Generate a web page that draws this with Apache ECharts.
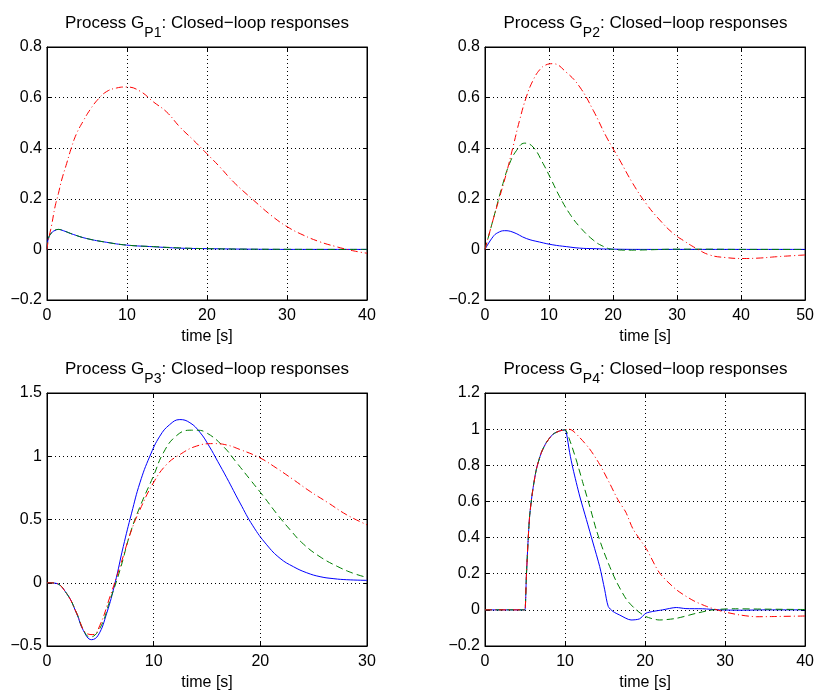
<!DOCTYPE html>
<html><head><meta charset="utf-8">
<script src="https://cdn.jsdelivr.net/npm/echarts@6/dist/echarts.min.js"></script>
<style>html,body{margin:0;padding:0;background:#fff}#c{width:817px;height:692px}</style>
</head><body><div id="c"></div>
<script>
// ---------- Process GP1 ----------
const p1BlueT = [0,0.17,0.58,1,1.42,2.04,3.3,4.96,7.46,9.96,13.3,16.6,20,25,30,35,40];
const p1BlueV = [0,0.043,0.066,0.075,0.079,0.074,0.059,0.043,0.028,0.017,0.0105,0.005,0.003,0.001,0,0,0];
const p1GreenT = [0,0.17,0.58,1,1.42,2.04,3.3,4.96,7.46,9.96,13.3,16.6,20,25,30,35,40];
const p1GreenV = [0,0.042,0.066,0.076,0.079,0.074,0.059,0.043,0.028,0.017,0.011,0.006,0.003,0.001,0.0005,0,0];
const p1RedT = [0,0.17,0.58,1.0,1.42,1.83,2.46,3.08,3.7,4.54,5.38,6.4,7.46,8.7,9.96,11.6,13.3,14.96,16.6,18.3,19.96,21.6,23.3,25.8,28,30,32,34.1,36,37.5,39,40];
const p1RedV = [0,0.037,0.096,0.168,0.22,0.274,0.34,0.405,0.458,0.508,0.552,0.594,0.624,0.638,0.642,0.626,0.583,0.543,0.484,0.432,0.379,0.326,0.267,0.195,0.135,0.09,0.057,0.03,0.012,0,-0.01,-0.015];

// ---------- Process GP2 ----------
const p2BlueT = [0,1.25,2,3.07,4.375,6.46,8.54,10.6,12.7,14.8,17,20,25,30,40,50];
const p2BlueV = [0,0.05,0.066,0.074,0.068,0.043,0.029,0.018,0.011,0.005,0.003,0.001,0,0,0,0];
const p2GreenT = [0,1.25,2.8,3.85,4.9,6.2,7.5,9.06,10.4,11.67,13.2,14.8,16.9,18.4,20,22.6,25,30,35,40,45,50];
const p2GreenV = [0,0.116,0.26,0.34,0.39,0.42,0.405,0.34,0.273,0.208,0.142,0.089,0.037,0.013,0,-0.003,-0.002,0.001,0.001,0,0,0];
const p2RedT = [0,1.25,2.3,3.33,4.375,5.4,6.46,7.5,8.54,9.5,10.6,12.7,14.8,16.9,18.96,21.04,23.1,25.2,27.3,29.4,31,33,35.1,37.5,40.3,43,45.5,48,50];
const p2RedV = [0,0.116,0.208,0.3,0.405,0.51,0.603,0.668,0.71,0.729,0.734,0.70,0.642,0.55,0.445,0.353,0.26,0.18,0.116,0.063,0.035,0.004,-0.022,-0.032,-0.036,-0.034,-0.029,-0.025,-0.022];

// ---------- Process GP3 ----------
const p3BlueT = [0,0.75,1.84,2.78,3.4,4.18,4.8,5.59,6.37,7.15,7.93,8.71,9.64,10.58,11.5,12.45,13.4,14.33,15.2,16,16.85,18.1,19.3,20.6,21.85,23.1,24.35,25.6,26.9,28.1,30];
const p3BlueV = [0,-0.003,-0.085,-0.243,-0.376,-0.45,-0.415,-0.243,-0.005,0.286,0.55,0.79,1.0,1.159,1.25,1.29,1.265,1.19,1.08,0.96,0.83,0.63,0.45,0.3,0.193,0.127,0.079,0.048,0.032,0.024,0.019];
const p3GreenT = [0,0.75,1.84,2.78,3.4,4.03,4.96,5.9,6.84,7.8,8.71,9.96,10.9,12.1,13.4,14,14.96,16.5,17.8,19.05,20.3,21.5,22.8,24.05,25.6,27.2,28.7,30];
const p3GreenV = [0,-0.003,-0.085,-0.24,-0.37,-0.43,-0.36,-0.14,0.1,0.39,0.6,0.84,1.026,1.16,1.206,1.206,1.185,1.08,0.947,0.815,0.683,0.55,0.418,0.305,0.205,0.13,0.075,0.042];
const p3RedT = [0,0.75,1.84,2.78,3.7,4.3,4.96,5.9,6.84,7.93,8.71,9.96,11.2,12.45,14,15.6,16.8,18.1,19.97,21.5,23.1,24.7,26.3,28.1,30];
const p3RedV = [0,-0.003,-0.085,-0.24,-0.4,-0.41,-0.336,-0.111,0.127,0.418,0.577,0.788,0.934,1.013,1.08,1.1,1.09,1.053,0.987,0.907,0.815,0.72,0.635,0.537,0.458];

// ---------- Process GP4 ----------
const p4BlueT = [0,4.9,5,5.17,5.37,5.58,5.92,6.42,7.04,7.67,8.5,9.33,10,10.17,10.58,11,11.83,12.67,13.5,14.33,14.96,15.4,16,16.8,18.25,19.3,20.1,20.96,22.2,23.9,25.1,27.2,29.3,32,35,40];
const p4BlueV = [0,0,0,0.185,0.37,0.52,0.648,0.778,0.87,0.926,0.972,0.99,0.996,0.98,0.87,0.78,0.63,0.5,0.37,0.24,0.111,0.019,-0.009,-0.028,-0.056,-0.05,-0.019,-0.009,0,0.013,0.007,0.006,0,-0.002,0,0];
const p4GreenT = [0,4.9,5,5.17,5.37,5.58,5.92,6.42,7.04,7.67,8.5,9.33,10,10.58,11.4,12.25,13.08,13.9,14.75,15.58,16.4,17.7,18.9,20.1,21.8,23.9,26.4,28.5,31,35,40];
const p4GreenV = [0,0,0,0.185,0.37,0.52,0.648,0.778,0.87,0.926,0.972,0.99,0.996,0.94,0.83,0.70,0.574,0.444,0.333,0.24,0.158,0.056,0,-0.037,-0.056,-0.047,-0.019,0,0.006,0.004,0.002];
const p4RedT = [0,4.9,5,5.17,5.37,5.58,5.92,6.42,7.04,7.67,8.5,9.33,10,10.5,11,11.83,13.08,14.33,15.58,16.6,17.6,18.5,20.2,21.8,23.9,26,27.7,29.7,31.8,33.9,36,40];
const p4RedV = [0,0,0,0.185,0.37,0.52,0.648,0.778,0.87,0.926,0.972,0.99,0.996,1.0,0.99,0.954,0.89,0.805,0.70,0.61,0.54,0.447,0.335,0.205,0.112,0.052,0.019,-0.009,-0.028,-0.038,-0.037,-0.034];

// ---------- axes & titles ----------
const titles = ['P1','P2','P3','P4'];
const xMax = [40,50,30,40];
const yMin = [-0.2,-0.2,-0.5,-0.2];
const yMax = [0.8,0.8,1.5,1.2];
const yStep = [0.2,0.2,0.5,0.2];
const xStep = 10;
const xName = 'time [s]';

const plots = [
  {blue:[p1BlueT,p1BlueV], green:[p1GreenT,p1GreenV], red:[p1RedT,p1RedV]},
  {blue:[p2BlueT,p2BlueV], green:[p2GreenT,p2GreenV], red:[p2RedT,p2RedV]},
  {blue:[p3BlueT,p3BlueV], green:[p3GreenT,p3GreenV], red:[p3RedT,p3RedV]},
  {blue:[p4BlueT,p4BlueV], green:[p4GreenT,p4GreenV], red:[p4RedT,p4RedV]}
];

const FONT = '"Liberation Sans", Arial, Helvetica, sans-serif';
const gridPos = [
  {left:47, top:47, width:320, height:253},
  {left:485, top:47, width:321, height:253},
  {left:47, top:393, width:320, height:253},
  {left:485, top:393, width:321, height:253}
];
const zip = (t, v) => t.map((x, i) => [x, v[i]]);
const minus = v => String(v).replace('-', '\u2212');

const grid = [], xAxis = [], yAxis = [], series = [], title = [];
gridPos.forEach((g, i) => {
  grid.push(Object.assign({show:true, borderColor:'#000', borderWidth:1, backgroundColor:'#fff', containLabel:false}, g));
  const tick = {show:true, inside:true, length:4, lineStyle:{color:'#000', width:1}};
  xAxis.push({
    type:'value', gridIndex:i, min:0, max:xMax[i], interval:xStep, position:'bottom',
    name:xName, nameLocation:'middle', nameGap:29,
    nameTextStyle:{color:'#000', fontSize:16, fontFamily:FONT},
    axisLine:{show:true, onZero:false, lineStyle:{color:'#000', width:1}},
    axisTick:tick,
    axisLabel:{color:'#000', fontSize:16, fontFamily:FONT, margin:8, showMinLabel:true, showMaxLabel:true, formatter:minus},
    splitLine:{show:true, lineStyle:{color:'#000', width:1, type:[1,3]}}
  });
  xAxis.push({
    type:'value', gridIndex:i, min:0, max:xMax[i], interval:xStep, position:'top',
    axisLine:{show:true, onZero:false, lineStyle:{color:'#000', width:1}},
    axisTick:tick, axisLabel:{show:false}, splitLine:{show:false}
  });
  yAxis.push({
    type:'value', gridIndex:i, min:yMin[i], max:yMax[i], interval:yStep[i], position:'left',
    axisLine:{show:true, onZero:false, lineStyle:{color:'#000', width:1}},
    axisTick:tick,
    axisLabel:{color:'#000', fontSize:16, fontFamily:FONT, margin:5, showMinLabel:true, showMaxLabel:true, formatter:minus},
    splitLine:{show:true, lineStyle:{color:'#000', width:1, type:[1,3]}}
  });
  yAxis.push({
    type:'value', gridIndex:i, min:yMin[i], max:yMax[i], interval:yStep[i], position:'right',
    axisLine:{show:true, onZero:false, lineStyle:{color:'#000', width:1}},
    axisTick:tick, axisLabel:{show:false}, splitLine:{show:false}
  });
  title.push({
    text:'{a|Process G}{s|' + titles[i] + '}{a|: Closed\u2212loop responses}',
    left: g.left + g.width/2, textAlign:'center',
    top: g.top - 34, padding:0,
    textStyle:{
      fontWeight:'normal',
      rich:{
        a:{fontSize:17, fontFamily:FONT, fontWeight:'normal', color:'#000', lineHeight:20},
        s:{fontSize:14, fontFamily:FONT, fontWeight:'normal', color:'#000', lineHeight:12, padding:[21,0,0,0]}
      }
    }
  });
  const p = plots[i];
  const sm = i === 3 ? 0.25 : 0.45;
  const mk = (name, d, color, type) => ({
    type:'line', name, xAxisIndex:2*i, yAxisIndex:2*i, data:zip(d[0], d[1]),
    showSymbol:false, symbol:'none', smooth:sm, clip:true,
    lineStyle:{color, width:1, type}, animation:false, silent:true
  });
  series.push(mk('blue', p.blue, '#0000ff', 'solid'));
  series.push(mk('green', p.green, '#008000', [7,4]));
  series.push(mk('red', p.red, '#ff0000', [7,3,1,3]));
});

const chart = echarts.init(document.getElementById('c'), null, {renderer:'canvas'});
chart.setOption({backgroundColor:'#fff', animation:false, title, grid, xAxis, yAxis, series});
</script></body></html>
